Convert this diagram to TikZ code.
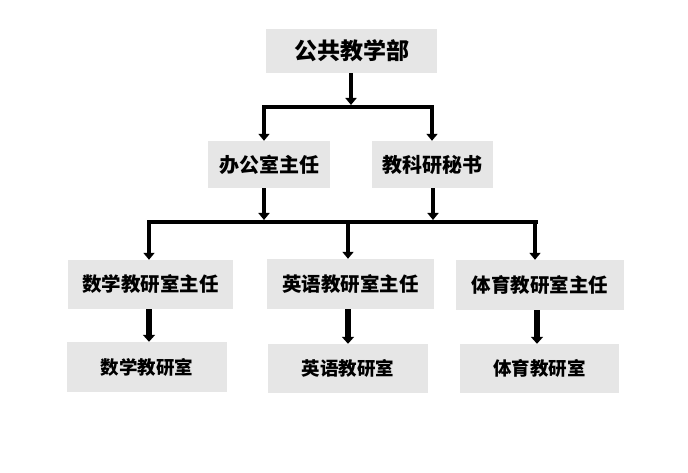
\documentclass[tikz,border=0pt]{standalone}
\usepackage{fontspec}
\newfontfamily\cjk{Noto Sans CJK SC}
\usetikzlibrary{arrows.meta}
\definecolor{boxgray}{RGB}{230,230,230}
\tikzset{
  box/.style={fill=boxgray, inner sep=0pt, align=center, font=\cjk\bfseries},
  conn/.style={line width=4.5pt, draw=black},
  arr/.style={line width=4.5pt, draw=black, -{Triangle[width=11pt,length=7pt]}},
  arrthick/.style={line width=6.5pt, draw=black, -{Triangle[width=12pt,length=7pt]}},
}
\begin{document}
\begin{tikzpicture}[x=1pt,y=-1pt]
\useasboundingbox (0,0) rectangle (688,473);
% boxes
\node[box, minimum width=171pt, minimum height=44pt, font=\cjk\bfseries\fontsize{23}{23}\selectfont] (top) at (351.5,51) {公共教学部};
\node[box, minimum width=122pt, minimum height=47pt, font=\cjk\bfseries\fontsize{20}{20}\selectfont] (a) at (269,164.5) {办公室主任};
\node[box, minimum width=121pt, minimum height=47pt, font=\cjk\bfseries\fontsize{20}{20}\selectfont] (b) at (432.5,164.5) {教科研秘书};
\node[box, minimum width=165pt, minimum height=49pt, font=\cjk\bfseries\fontsize{19.5}{19.5}\selectfont] (m1) at (150.5,284.5) {数学教研室主任};
\node[box, minimum width=167pt, minimum height=50pt, font=\cjk\bfseries\fontsize{19.5}{19.5}\selectfont] (e1) at (350.5,284) {英语教研室主任};
\node[box, minimum width=168pt, minimum height=50pt, font=\cjk\bfseries\fontsize{19.5}{19.5}\selectfont] (p1) at (540,285) {体育教研室主任};
\node[box, minimum width=160pt, minimum height=50pt, font=\cjk\bfseries\fontsize{18.5}{18.5}\selectfont] (m2) at (147,367) {数学教研室};
\node[box, minimum width=160pt, minimum height=49pt, font=\cjk\bfseries\fontsize{18.5}{18.5}\selectfont] (e2) at (348,368.5) {英语教研室};
\node[box, minimum width=159pt, minimum height=49pt, font=\cjk\bfseries\fontsize{18.5}{18.5}\selectfont] (p2) at (539.5,368.5) {体育教研室};
% bus coordinates
\coordinate (b1l) at (262,107);
\coordinate (b1r) at (434,107);
\coordinate (b1top) at (351,105);
\coordinate (b1a) at (264,107);
\coordinate (b1b) at (432,107);
\coordinate (b2l) at (147,222);
\coordinate (b2r) at (538,222);
\coordinate (b2a) at (264,220);
\coordinate (b2b) at (433,220);
\coordinate (b2m) at (149,222);
\coordinate (b2e) at (348,222);
\coordinate (b2p) at (535,222);
\coordinate (xm) at (149,0);
\coordinate (xe) at (348,0);
\coordinate (xp) at (537,0);
% connectors
\draw[arr] (top.south -| b1top) -- (b1top);
\draw[conn] (b1l) -- (b1r);
\draw[arr] (b1a) -- (b1a |- a.north);
\draw[arr] (b1b) -- (b1b |- b.north);
\draw[arr] (a.south -| b2a) -- (b2a);
\draw[arr] (b.south -| b2b) -- (b2b);
\draw[conn] (b2l) -- (b2r);
\draw[arr] (b2m) -- (b2m |- m1.north);
\draw[arr] (b2e) -- (b2e |- e1.north);
\draw[arr] (b2p) -- (b2p |- p1.north);
\draw[arrthick] (m1.south -| xm) -- (xm |- m2.north);
\draw[arrthick] (e1.south -| xe) -- (xe |- e2.north);
\draw[arrthick] (p1.south -| xp) -- (xp |- p2.north);
\end{tikzpicture}
\end{document}
